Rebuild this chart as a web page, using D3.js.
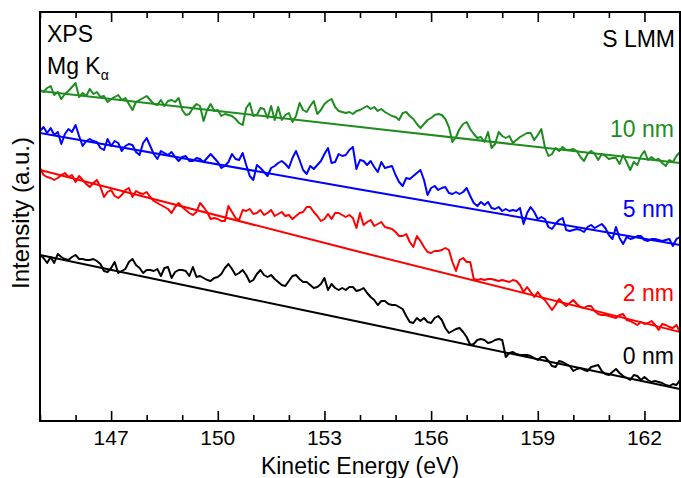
<!DOCTYPE html>
<html>
<head>
<meta charset="utf-8">
<script src="https://cdn.jsdelivr.net/npm/d3@7"></script>
<style>
  html, body { margin: 0; padding: 0; background: #fff; }
  svg { display: block; font-family: "Liberation Sans", Arial, Helvetica, sans-serif; }
</style>
</head>
<body>
<svg id="chart" width="681" height="478"></svg>
<script>
// ---------------- DATA ----------------
const energyStart = 145;      // eV
const energyStep = 0.1;       // eV
const xDomain = [145, 163];
const majorTicks = [147, 150, 153, 156, 159, 162];
const minorTicks = d3.range(145, 164, 1);

const labels = ["0 nm", "2 nm", "5 nm", "10 nm"];
const colors = ["#000000", "#ff0000", "#0000ff", "#1f8c1f"];

// intensities (a.u.), 0.1 eV steps from 145 to 163 eV
const intensity0nm = [
245,242,237,243,237,246,243,241,240,243,
245,241,241,240,240,241,239,236,229,228,
232,238,227,229,231,238,241,235,232,227,
230,230,229,231,224,232,233,222,228,230,
230,229,224,233,223,224,222,220,219,222,
223,226,232,236,231,225,227,230,225,218,
220,226,230,225,223,225,221,218,215,214,
219,224,225,221,218,218,215,212,213,216,
222,210,216,212,210,212,210,213,213,209,
210,212,207,203,200,195,199,199,196,195,
195,193,191,184,178,177,182,179,182,178,
177,182,184,180,172,167,169,171,172,168,
163,155,156,160,161,160,157,158,160,161,
160,143,147,148,146,145,145,145,144,142,
140,143,143,139,134,133,139,138,136,134,
129,131,132,130,129,133,134,135,129,126,
125,128,131,127,124,122,120,125,124,120,
123,120,118,119,118,117,115,114,116,115,120];

const intensity2nm = [
332,325,323,322,320,322,325,327,323,325,
318,324,320,316,313,317,320,313,303,308,
310,304,302,305,310,312,303,309,307,306,
308,303,299,297,295,293,291,287,293,297,
293,290,287,285,288,297,293,288,281,282,
281,279,279,294,288,282,280,290,289,291,
286,287,290,285,287,290,284,286,288,284,
285,281,284,287,288,293,293,288,284,279,
281,286,281,287,287,285,283,285,282,272,
287,275,278,280,274,276,278,273,272,271,
268,264,264,266,258,253,264,259,253,248,
247,249,249,250,252,250,238,229,240,242,
238,238,221,220,221,220,221,221,220,219,
220,219,218,220,219,215,208,213,208,203,
208,203,200,195,190,195,201,197,194,197,
200,196,193,192,194,194,189,186,185,185,
184,183,182,185,186,180,179,177,175,178,
176,177,179,175,170,176,175,173,172,175,168];

const intensity5nm = [
369,373,367,372,365,368,356,366,371,368,
375,364,354,359,361,359,358,352,350,361,
354,359,357,349,354,356,355,348,345,357,
362,354,346,341,349,347,345,348,343,339,
343,344,339,339,342,341,338,342,346,342,
338,332,334,338,346,341,340,347,335,324,
320,335,332,328,324,332,334,337,339,336,
332,342,349,340,330,326,334,331,335,339,
346,352,337,338,346,344,345,350,353,331,
340,339,335,339,333,328,338,332,333,334,
325,318,314,322,321,324,327,330,320,305,
312,314,310,312,313,307,306,308,306,308,
312,304,297,294,298,295,298,292,291,293,
289,291,289,290,289,292,276,287,293,288,
281,283,281,273,271,276,280,282,270,269,
270,271,270,268,273,275,272,274,276,272,
265,261,273,262,256,263,261,262,264,264,
260,259,261,261,260,259,260,261,254,261,263];

const intensity10nm = [
410,408,412,414,405,408,401,406,409,413,
417,403,407,404,411,406,408,403,404,398,
401,403,405,400,402,396,390,398,400,402,
404,400,396,395,400,394,399,400,398,402,
390,385,386,392,396,394,379,390,396,389,
390,384,386,385,384,381,377,375,392,397,
384,385,392,391,382,394,380,393,380,385,
387,378,384,397,390,388,394,399,386,390,
396,399,401,393,389,388,387,388,386,389,
390,392,394,391,393,389,391,388,386,384,
383,380,387,388,384,381,376,372,376,380,
382,385,386,385,381,373,358,363,371,376,
378,371,366,362,363,358,368,352,356,368,
364,362,364,357,360,363,365,367,367,360,
365,371,353,344,346,352,349,353,350,350,
351,349,343,339,346,349,346,340,346,344,
341,342,342,336,345,338,330,338,335,344,
349,340,343,340,341,337,334,340,338,344,348];

// background fits
const fitEnergies = [145, 154, 163];
const fit0nm  = [245, 178, 111];
const fit2nm  = [330, 248, 168];
const fit5nm  = [367, 310.5, 255];
const fit10nm = [409, 373, 337];

// ---------------- CHART ----------------
const svg = d3.select("#chart");
const plot = { left: 40, right: 680, top: 12, bottom: 421 };

const x = d3.scaleLinear().domain(xDomain).range([plot.left, plot.right]);
const y = d3.scaleLinear().domain([79, 488]).range([plot.bottom, plot.top]);

const series = [
  { label: labels[0], color: colors[0], values: intensity0nm, fit: fit0nm, labelY: 364 },
  { label: labels[1], color: colors[1], values: intensity2nm, fit: fit2nm, labelY: 301 },
  { label: labels[2], color: colors[2], values: intensity5nm, fit: fit5nm, labelY: 217 },
  { label: labels[3], color: colors[3], values: intensity10nm, fit: fit10nm, labelY: 137 }
];

const clip = svg.append("defs").append("clipPath").attr("id", "clip")
  .append("rect").attr("x", plot.left).attr("y", plot.top)
  .attr("width", plot.right - plot.left).attr("height", plot.bottom - plot.top);

const line = d3.line()
  .x(d => x(d[0])).y(d => y(d[1]));
const fitLine = d3.line()
  .x(d => x(d[0])).y(d => y(d[1])).curve(d3.curveMonotoneX);

const g = svg.append("g").attr("clip-path", "url(#clip)");
series.forEach(s => {
  const pts = s.values.map((v, i) => [energyStart + i * energyStep, v]);
  g.append("path").datum(pts)
    .attr("d", line).attr("fill", "none")
    .attr("stroke", s.color).attr("stroke-width", 2)
    .attr("stroke-linejoin", "round");
  const fpts = fitEnergies.map((e, i) => [e, s.fit[i]]);
  g.append("path").datum(fpts)
    .attr("d", fitLine).attr("fill", "none")
    .attr("stroke", s.color).attr("stroke-width", 2);
  svg.append("text")
    .attr("x", 674).attr("y", s.labelY)
    .attr("text-anchor", "end")
    .attr("font-size", 23)
    .attr("fill", s.color)
    .text(s.label);
});

// axes: bottom (inward ticks) and top (inward ticks)
const tickLen = e => majorTicks.includes(e) ? 10 : 6;
const bottomAxis = d3.axisBottom(x).tickValues(minorTicks)
  .tickSizeInner(0).tickSizeOuter(0).tickFormat("");
const bAx = svg.append("g").attr("transform", `translate(0,${plot.bottom})`).call(bottomAxis);
bAx.select(".domain").remove();
bAx.selectAll(".tick line")
  .attr("y2", d => -tickLen(d)).attr("stroke", "#000").attr("stroke-width", 1.6);

const topAxis = d3.axisTop(x).tickValues(minorTicks)
  .tickSizeInner(0).tickSizeOuter(0).tickFormat("");
const tAx = svg.append("g").attr("transform", `translate(0,${plot.top})`).call(topAxis);
tAx.select(".domain").remove();
tAx.selectAll(".tick line")
  .attr("y2", d => tickLen(d)).attr("stroke", "#000").attr("stroke-width", 1.6);

// tick labels
svg.append("g").selectAll("text").data(majorTicks).join("text")
  .attr("x", d => x(d)).attr("y", 445)
  .attr("text-anchor", "middle").attr("font-size", 21).attr("fill", "#000")
  .text(d => d);

// frame
svg.append("rect")
  .attr("x", plot.left).attr("y", plot.top)
  .attr("width", plot.right - plot.left).attr("height", plot.bottom - plot.top)
  .attr("fill", "none").attr("stroke", "#000").attr("stroke-width", 2);

// axis titles
svg.append("text")
  .attr("x", (plot.left + plot.right) / 2).attr("y", 474)
  .attr("text-anchor", "middle").attr("font-size", 23)
  .text("Kinetic Energy (eV)");
svg.append("text")
  .attr("transform", "translate(29,213) rotate(-90)")
  .attr("text-anchor", "middle").attr("font-size", 24)
  .text("Intensity (a.u.)");

// annotations
svg.append("text").attr("x", 47).attr("y", 42).attr("font-size", 23).text("XPS");
const mg = svg.append("text").attr("x", 47).attr("y", 74).attr("font-size", 23);
mg.append("tspan").text("Mg K");
mg.append("tspan").attr("font-size", 14).attr("dy", 6).text("α");
svg.append("text").attr("x", 675).attr("y", 47).attr("text-anchor", "end")
  .attr("font-size", 23).text("S LMM");
</script>
</body>
</html>
